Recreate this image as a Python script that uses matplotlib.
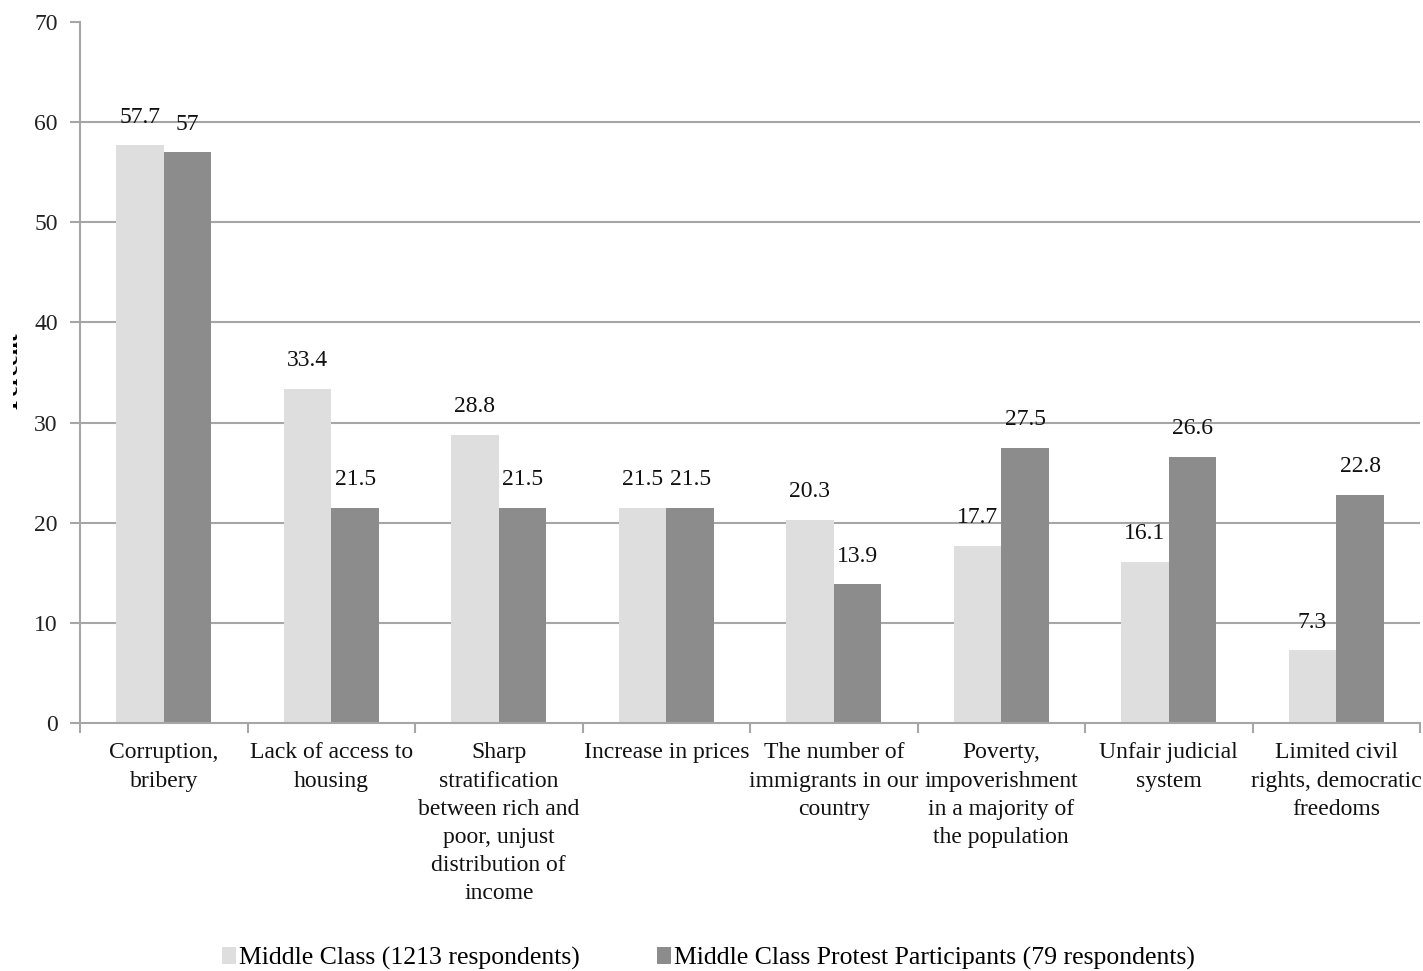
import matplotlib
matplotlib.use("Agg")
import matplotlib.pyplot as plt
from matplotlib.patches import Patch
from matplotlib.transforms import Bbox, TransformedBbox
import numpy as np

plt.rcParams['font.family'] = ['Liberation Serif', 'DejaVu Serif']

categories = [
    "Corruption,\nbribery",
    "Lack of access to\nhousing",
    "Sharp\nstratification\nbetween rich and\npoor, unjust\ndistribution of\nincome",
    "Increase in prices",
    "The number of\nimmigrants in our\ncountry",
    "Poverty,\nimpoverishment\nin a majority of\nthe population",
    "Unfair judicial\nsystem",
    "Limited civil\nrights, democratic\nfreedoms",
]
middle_class = [57.7, 33.4, 28.8, 21.5, 20.3, 17.7, 16.1, 7.3]
protesters = [57, 21.5, 21.5, 21.5, 13.9, 27.5, 26.6, 22.8]
middle_class_labels = ["57.7", "33.4", "28.8", "21.5", "20.3", "17.7", "16.1", "7.3"]
protester_labels = ["57", "21.5", "21.5", "21.5", "13.9", "27.5", "26.6", "22.8"]
series_names = ["Middle Class (1213 respondents)",
                "Middle Class Protest Participants (79 respondents)"]
y_ticks = [0, 10, 20, 30, 40, 50, 60, 70]

light = "#dedede"
dark = "#8c8c8c"
grid_col = "#a6a6a6"
fs = 17

W, H = 1423, 971
fig = plt.figure(figsize=(W / 100, H / 100), dpi=100)
ax = fig.add_axes([80 / W, 1 - 723 / H, 1340 / W, 701 / H])

x = np.arange(len(categories))
w = 0.285
b1 = ax.bar(x - w / 2, middle_class, w, color=light, zorder=2)
b2 = ax.bar(x + w / 2, protesters, w, color=dark, zorder=2)

for bars, labels in ((b1, middle_class_labels), (b2, protester_labels)):
    for bar, lab in zip(bars, labels):
        ax.annotate(lab, (bar.get_x() + bar.get_width() / 2, bar.get_height()),
                    xytext=(0, 20), textcoords="offset points",
                    ha="center", va="center", fontsize=fs, color="#111111",
                    zorder=3)

ax.set_xlim(-0.5, len(categories) - 0.5)
ax.set_ylim(0, 70)
ax.set_yticks(y_ticks)
ax.set_yticklabels([str(t) for t in y_ticks], fontsize=fs, color="#222222")
for t in y_ticks[1:-1]:
    ax.axhline(t, color=grid_col, lw=1.5, zorder=1)

ax.set_xticks(x)
ax.set_xticklabels(categories, fontsize=fs, color="#111111", linespacing=1.45)
ax.set_xticks(np.arange(-0.5, len(categories)), minor=True)
ax.tick_params(axis="x", which="major", length=0, pad=14)
ax.tick_params(axis="x", which="minor", length=7, width=1.5, color=grid_col)
ax.tick_params(axis="y", length=7, width=1.5, color=grid_col, pad=9)

for s in ("top", "right"):
    ax.spines[s].set_visible(False)
for s in ("left", "bottom"):
    ax.spines[s].set_color(grid_col)
    ax.spines[s].set_linewidth(1.5)

# y-axis title, clipped to a narrow strip at the left of the chart area
ylab = fig.text(18 / W, 1 - 371 / H, "Percent", rotation=90,
                rotation_mode="anchor", ha="center", va="baseline",
                fontsize=fs, fontweight="bold", color="black")
ylab.set_clip_box(TransformedBbox(Bbox([[13 / W, 0], [1, 1]]), fig.transFigure))
ylab.set_clip_on(True)

handles = [Patch(facecolor=light, edgecolor="none"),
           Patch(facecolor=dark, edgecolor="none")]
fig.legend(handles, series_names, loc="center", ncol=2,
           bbox_to_anchor=(0.498, 1 - 958 / H), frameon=False,
           fontsize=18.5, handlelength=0.55, handleheight=0.65,
           handletextpad=0.12, columnspacing=3.0, borderpad=0)

fig.savefig("out.png", dpi=100)
